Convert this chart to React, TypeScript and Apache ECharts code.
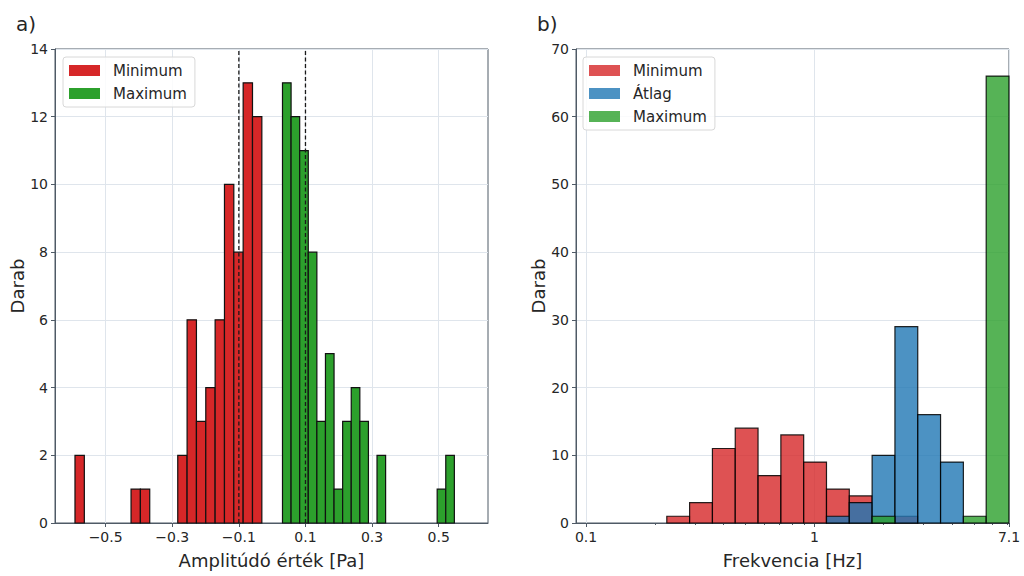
import React, { useEffect, useRef } from "react";
import * as echarts from "echarts";

// ---------- Data ----------
// a) amplitude histograms: 20 equal bins per series
const ampMinRange = [-0.592, -0.031];
const ampMinCounts = [2, 0, 0, 0, 0, 0, 1, 1, 0, 0, 0, 2, 6, 3, 4, 6, 10, 8, 13, 12];
const ampMaxRange = [0.031, 0.547];
const ampMaxCounts = [13, 12, 11, 8, 3, 5, 1, 3, 4, 3, 0, 2, 0, 0, 0, 0, 0, 0, 1, 2];
const ampThresholds = [-0.1, 0.1];
const ampTicks = [-0.5, -0.3, -0.1, 0.1, 0.3, 0.5];

// b) frequency histograms: 15 log-spaced bins shared by the three series
const freqRange = [0.2257, 7.1];
const freqMinCounts = [1, 3, 11, 14, 7, 13, 9, 5, 4, 0, 1, 0, 0, 0, 0];
const freqAvgCounts = [0, 0, 0, 0, 0, 0, 0, 1, 3, 10, 29, 16, 9, 0, 0];
const freqMaxCounts = [0, 0, 0, 0, 0, 0, 0, 0, 0, 1, 0, 0, 0, 1, 66];
const freqTicks = [0.1, 1, 7.1];
const freqMinorTicks = [0.2, 0.3, 0.4, 0.5, 0.6, 0.7, 0.8, 0.9, 2, 3, 4, 5, 6, 7];

const FONT = "DejaVu Sans";
const TXT = "#262626";
const SPINE = "#4f5a66";
const GRIDC = "#dfe5ec";

function linearBins(range: number[], counts: number[]) {
  const w = (range[1] - range[0]) / counts.length;
  return counts
    .map((c, i) => [range[0] + i * w, range[0] + (i + 1) * w, c])
    .filter((d) => d[2] > 0);
}
function logBins(range: number[], counts: number[]) {
  const l0 = Math.log10(range[0]);
  const l1 = Math.log10(range[1]);
  const w = (l1 - l0) / counts.length;
  return counts
    .map((c, i) => [Math.pow(10, l0 + i * w), Math.pow(10, l0 + (i + 1) * w), c])
    .filter((d) => d[2] > 0);
}

function barRenderer(fill: string, stroke: string, lw: number) {
  return (params: any, api: any) => {
    const p0 = api.coord([api.value(0), 0]);
    const p1 = api.coord([api.value(1), api.value(2)]);
    return {
      type: "rect",
      shape: { x: p0[0], y: p1[1], width: p1[0] - p0[0], height: p0[1] - p1[1] },
      style: { fill, stroke, lineWidth: lw },
    };
  };
}

const fmtAmp = (v: number) => {
  const s = Math.abs(v).toFixed(1);
  return v < 0 ? "\u2212" + s : s;
};

export default function App() {
  const ref = useRef<HTMLDivElement>(null);
  useEffect(() => {
    if (!ref.current) return;
    const chart = echarts.init(ref.current, null, { renderer: "svg" });

    const axisCommon = {
      axisLine: { show: true, onZero: false, lineStyle: { color: SPINE, width: 1 } },
      axisTick: { show: true, length: 4, lineStyle: { color: SPINE } },
      axisLabel: { color: TXT, fontSize: 14, fontFamily: FONT, margin: 7 },
      splitLine: { show: true, lineStyle: { color: GRIDC, width: 1 } },
      nameTextStyle: { color: TXT, fontSize: 18, fontFamily: FONT },
      nameLocation: "middle" as const,
    };

    const redA = "rgba(214,39,40,0.8)";
    const blueA = "rgba(31,119,180,0.8)";
    const greenA = "rgba(44,160,44,0.8)";

    const legendCommon = {
      orient: "vertical" as const,
      icon: "rect",
      itemWidth: 31,
      itemHeight: 11,
      itemGap: 6,
      padding: [5, 8, 5, 6],
      borderColor: "#d8d8d8",
      borderWidth: 1,
      borderRadius: 3,
      backgroundColor: "rgba(255,255,255,0.85)",
      textStyle: { color: TXT, fontSize: 15, fontFamily: FONT, lineHeight: 17, padding: [0, 0, 0, 8] },
      itemStyle: { borderWidth: 0 },
      selectedMode: false,
    };

    chart.setOption({
      animation: false,
      backgroundColor: "#ffffff",
      title: [
        { text: "a)", left: 11, top: 9, textStyle: { fontSize: 20, fontWeight: "normal", color: TXT, fontFamily: FONT } },
        { text: "b)", left: 532, top: 9, textStyle: { fontSize: 20, fontWeight: "normal", color: TXT, fontFamily: FONT } },
      ],
      legend: [
        {
          ...legendCommon,
          left: 63,
          top: 57,
          data: [
            { name: "Minimum", itemStyle: { color: "#d62728" } },
            { name: "Maximum", itemStyle: { color: "#2ca02c" } },
          ],
        },
        {
          ...legendCommon,
          left: 583,
          top: 57,
          data: [
            { name: "Minimum", itemStyle: { color: redA } },
            { name: "Átlag", itemStyle: { color: blueA } },
            { name: "Maximum", itemStyle: { color: greenA } },
          ],
        },
      ],
      grid: [
        { left: 55, top: 49, width: 433, height: 474, show: true, borderColor: SPINE, borderWidth: 1, backgroundColor: "transparent" },
        { left: 576, top: 49, width: 433, height: 474, show: true, borderColor: SPINE, borderWidth: 1, backgroundColor: "transparent" },
      ],
      xAxis: [
        {
          ...axisCommon,
          type: "value",
          gridIndex: 0,
          position: "bottom",
          min: -0.652,
          max: 0.648,
          name: "Amplitúdó érték [Pa]",
          nameGap: 28,
          axisTick: { ...axisCommon.axisTick, customValues: ampTicks },
          axisLabel: { ...axisCommon.axisLabel, customValues: ampTicks, formatter: fmtAmp },
        },
        {
          ...axisCommon,
          type: "log",
          logBase: 10,
          gridIndex: 1,
          position: "bottom",
          min: 0.0904,
          max: 7.1,
          name: "Frekvencia [Hz]",
          nameGap: 28,
          axisTick: { ...axisCommon.axisTick, customValues: freqTicks },
          axisLabel: { ...axisCommon.axisLabel, customValues: freqTicks, formatter: (v: number) => String(+v.toFixed(2)) },
          minorTick: { show: false },
          minorSplitLine: { show: false },
        },
        {
          type: "log",
          logBase: 10,
          gridIndex: 1,
          position: "bottom",
          offset: 0,
          min: 0.0904,
          max: 7.1,
          axisLine: { show: false, onZero: false },
          axisLabel: { show: false },
          splitLine: { show: false },
          axisTick: { show: true, length: 2, lineStyle: { color: SPINE }, customValues: freqMinorTicks },
        },
      ],
      yAxis: [
        {
          ...axisCommon,
          type: "value",
          gridIndex: 0,
          position: "left",
          min: 0,
          max: 14,
          interval: 2,
          name: "Darab",
          nameGap: 27,
        },
        {
          ...axisCommon,
          type: "value",
          gridIndex: 1,
          position: "left",
          min: 0,
          max: 70,
          interval: 10,
          name: "Darab",
          nameGap: 27,
        },
      ],
      series: [
        {
          type: "custom",
          name: "Minimum",
          xAxisIndex: 0,
          yAxisIndex: 0,
          itemStyle: { color: "#d62728" },
          encode: { x: [0, 1], y: 2 },
          data: linearBins(ampMinRange, ampMinCounts),
          renderItem: barRenderer("#d62728", "#111", 1.2),
        },
        {
          type: "custom",
          name: "Maximum",
          xAxisIndex: 0,
          yAxisIndex: 0,
          itemStyle: { color: "#2ca02c" },
          encode: { x: [0, 1], y: 2 },
          data: linearBins(ampMaxRange, ampMaxCounts),
          renderItem: barRenderer("#2ca02c", "#111", 1.2),
        },
        {
          type: "custom",
          name: "thresholds",
          xAxisIndex: 0,
          yAxisIndex: 0,
          encode: { x: 0, y: 1 },
          data: ampThresholds.map((t) => [t, 14]),
          renderItem: (params: any, api: any) => {
            const a = api.coord([api.value(0), 0]);
            const b = api.coord([api.value(0), api.value(1)]);
            return {
              type: "line",
              shape: { x1: a[0], y1: a[1], x2: b[0], y2: b[1] },
              style: { stroke: "#1a1a1a", lineWidth: 1.3, lineDash: [4, 2.5] },
            };
          },
          z: 5,
        },
        {
          type: "custom",
          name: "Minimum",
          xAxisIndex: 1,
          yAxisIndex: 1,
          itemStyle: { color: redA },
          encode: { x: [0, 1], y: 2 },
          data: logBins(freqRange, freqMinCounts),
          renderItem: barRenderer(redA, "rgba(0,0,0,0.85)", 1.2),
        },
        {
          type: "custom",
          name: "Átlag",
          xAxisIndex: 1,
          yAxisIndex: 1,
          itemStyle: { color: blueA },
          encode: { x: [0, 1], y: 2 },
          data: logBins(freqRange, freqAvgCounts),
          renderItem: barRenderer(blueA, "rgba(0,0,0,0.85)", 1.2),
        },
        {
          type: "custom",
          name: "Maximum",
          xAxisIndex: 1,
          yAxisIndex: 1,
          itemStyle: { color: greenA },
          encode: { x: [0, 1], y: 2 },
          data: logBins(freqRange, freqMaxCounts),
          renderItem: barRenderer(greenA, "rgba(0,0,0,0.85)", 1.2),
        },
      ],
    });
    return () => chart.dispose();
  }, []);
  return (
    <div
      ref={ref}
      style={{ position: "fixed", left: 0, top: 0, width: 1024, height: 576, background: "#fff" }}
    />
  );
}
